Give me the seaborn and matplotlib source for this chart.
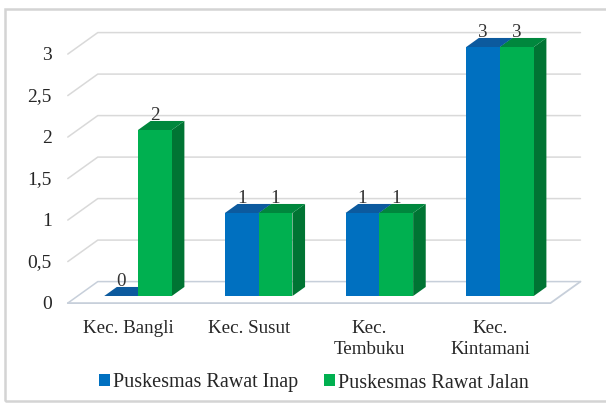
import matplotlib
matplotlib.use("Agg")
import matplotlib.pyplot as plt
from matplotlib.patches import Polygon, Rectangle, Patch
import seaborn as sns
import pandas as pd

# ---- data ----
categories = ["Kec. Bangli", "Kec. Susut", "Kec.\nTembuku", "Kec.\nKintamani"]
series_names = ["Puskesmas Rawat Inap", "Puskesmas Rawat Jalan"]
rawat_inap = [0, 1, 1, 3]
rawat_jalan = [2, 1, 1, 3]
ytick_values = [0, 0.5, 1, 1.5, 2, 2.5, 3]
ytick_labels = ["0", "0,5", "1", "1,5", "2", "2,5", "3"]

df = pd.DataFrame({
    "kecamatan": categories * 2,
    "jenis": [series_names[0]] * 4 + [series_names[1]] * 4,
    "jumlah": rawat_inap + rawat_jalan,
})

front_colors = ["#0070C0", "#00B050"]
top_colors = ["#0C5A9E", "#00873D"]
side_colors = ["#0A4C86", "#007433"]

sns.set_theme(style="white")
plt.rcParams["font.family"] = ["Liberation Serif", "DejaVu Serif"]
FS = 13.7
FS_Y = 14
FS_LEG = 14.5
TXT = "#262626"

fig = plt.figure(figsize=(6.06, 4.05), dpi=100)
W, H = 606.0, 405.0
# pixel geometry of the plotting area
px_per_x = 120.67
px_per_y = 83.0
x0_px = 138 - 0.75 * px_per_x
y_bottom_px = 296 + 0.2 * px_per_y
ax = fig.add_axes([x0_px / W, (H - y_bottom_px) / H, 4.6 * px_per_x / W, 3.6 * px_per_y / H])

sns.barplot(data=df, x="kecamatan", y="jumlah", hue="jenis", palette=front_colors,
            width=0.56, saturation=1, legend=False, ax=ax, zorder=3, linewidth=0)
ax.set_xlim(-0.75, 3.85)
ax.set_ylim(-0.2, 3.4)
for s in ax.spines.values():
    s.set_visible(False)
ax.set_xlabel("")
ax.set_ylabel("")
ax.set_yticks([])

# depth projection (data units per unit depth)
DX = 30 / px_per_x
DY = 21.5 / px_per_y

def proj(x, y, z):
    return (x + z * DX, y + z * DY)

xl, xr = -0.50, 3.50
zf, zb = -0.33, 0.67
grid_col = "#d9d9d9"
floor_col = "#c7cfda"

# category labels sit at the front plane of the floor
ax.set_xticks([proj(i, 0, zf)[0] for i in range(len(categories))])
ax.set_xticklabels(categories)
ax.tick_params(axis="x", length=0, pad=5, labelsize=FS, labelcolor=TXT)
for t in ax.get_xticklabels():
    t.set_linespacing(1.35)

for v in ytick_values:
    pts = [proj(xl, v, zf), proj(xl, v, zb), proj(xr, v, zb)]
    ax.plot([p[0] for p in pts], [p[1] for p in pts], color=floor_col if v == 0 else grid_col,
            lw=1.1, zorder=1, clip_on=False)
for v, lab in zip(ytick_values, ytick_labels):
    ax.annotate(lab, xy=proj(xl, v, zf), xytext=(-11.5, -1), textcoords="offset points",
                ha="right", va="center", fontsize=FS_Y, color=TXT)
# floor front & right edge
fl = [proj(xl, 0, zf), proj(xr, 0, zf), proj(xr, 0, zb)]
ax.plot([p[0] for p in fl], [p[1] for p in fl], color=floor_col, lw=1.3, zorder=1, clip_on=False)

# 3D faces of the bars
bz = 0.42
bdx, bdy = bz * DX, bz * DY
for i, cont in enumerate(ax.containers):
    for bar in cont:
        x, w, h = bar.get_x(), bar.get_width(), bar.get_height()
        top = [(x, h), (x + w, h), (x + w + bdx, h + bdy), (x + bdx, h + bdy)]
        side = [(x + w, 0), (x + w, h), (x + w + bdx, h + bdy), (x + w + bdx, bdy)]
        ax.add_patch(Polygon(side, closed=True, facecolor=side_colors[i], edgecolor="none", zorder=2))
        ax.add_patch(Polygon(top, closed=True, facecolor=top_colors[i], edgecolor="none", zorder=2))
        ax.annotate(f"{h:g}", xy=(x + w / 2, h + bdy), xytext=(0, -2.5),
                    textcoords="offset points", ha="center", va="bottom", fontsize=FS,
                    color="#333333", zorder=5)

# legend
handles = [Patch(facecolor=c, edgecolor="none", label=n) for c, n in zip(front_colors, series_names)]
fig.legend(handles=handles, loc="center", bbox_to_anchor=(0.518, (H - 383) / H), ncol=2,
           frameon=False, fontsize=FS_LEG, handlelength=0.55, handleheight=0.55,
           handletextpad=0.15, columnspacing=1.3, labelcolor=TXT)

# chart frame
fig.patches.append(Rectangle((5 / W, (H - 401) / H), 1.2, (401 - 9) / H, transform=fig.transFigure,
                             fill=False, edgecolor="#d4d4d4", lw=1.8))

fig.savefig("out.png", dpi=100)
